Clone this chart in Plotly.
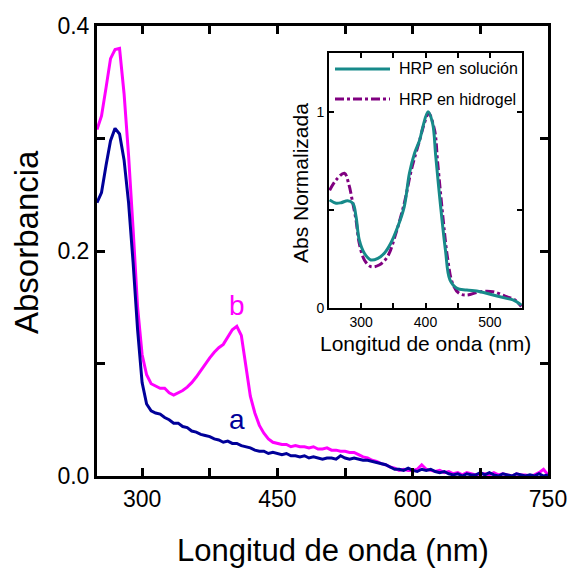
import plotly.graph_objects as go

# ---------------- data ----------------
wl = list(range(250, 751, 5))

abs_a = [0.243, 0.252, 0.276, 0.298, 0.309, 0.304, 0.281, 0.243, 0.190, 0.130,
         0.083, 0.064, 0.058, 0.056, 0.055, 0.052, 0.050, 0.047, 0.047, 0.044,
         0.043, 0.040, 0.039, 0.037, 0.036, 0.035, 0.033, 0.032, 0.030, 0.031,
         0.029, 0.029, 0.027, 0.026, 0.025, 0.023, 0.022, 0.022, 0.020, 0.021,
         0.020, 0.019, 0.020, 0.018, 0.018, 0.017, 0.018, 0.016, 0.017, 0.016,
         0.015, 0.016, 0.016, 0.015, 0.018, 0.016, 0.015, 0.016, 0.015, 0.014,
         0.014, 0.013, 0.012, 0.011, 0.010, 0.008, 0.006, 0.006, 0.005, 0.007,
         0.005, 0.004, 0.006, 0.005, 0.006, 0.004, 0.003, 0.004, 0.002, 0.001,
         0.002, 0.000, 0.002, 0.001, 0.001, 0.003, 0.001, 0.003, 0.001, 0.000,
         0.002, 0.001, 0.000, 0.002, 0.001, 0.000, 0.001, 0.000, 0.002, 0.000,
         0.001]

abs_b = [0.308, 0.320, 0.345, 0.371, 0.379, 0.380, 0.340, 0.285, 0.220, 0.150,
         0.108, 0.090, 0.082, 0.080, 0.078, 0.078, 0.074, 0.072, 0.074, 0.076,
         0.079, 0.083, 0.088, 0.094, 0.100, 0.105, 0.110, 0.114, 0.117, 0.123,
         0.130, 0.133, 0.125, 0.098, 0.071, 0.056, 0.045, 0.038, 0.033, 0.030,
         0.029, 0.028, 0.028, 0.026, 0.027, 0.026, 0.026, 0.025, 0.026, 0.024,
         0.024, 0.025, 0.023, 0.023, 0.022, 0.022, 0.021, 0.021, 0.019, 0.017,
         0.016, 0.014, 0.013, 0.011, 0.010, 0.008, 0.007, 0.005, 0.006, 0.005,
         0.005, 0.006, 0.010, 0.006, 0.005, 0.004, 0.005, 0.003, 0.004, 0.002,
         0.003, 0.001, 0.003, 0.002, 0.001, 0.002, 0.002, 0.001, 0.003, 0.001,
         0.002, 0.001, 0.000, 0.002, 0.001, 0.001, 0.000, 0.001, 0.003, 0.006,
         0.001]

sol_wl = [251, 261, 269, 279, 287, 292, 297, 305, 315, 326, 336, 346, 357, 367, 375,
          383, 391, 396, 404, 411, 416, 423, 431, 438, 449, 464, 485, 505, 526, 536, 549]
sol_abs = [0.551, 0.534, 0.537, 0.547, 0.534, 0.466, 0.347, 0.279, 0.245, 0.253, 0.279,
           0.330, 0.415, 0.517, 0.687, 0.789, 0.857, 0.925, 1.0, 0.942, 0.772, 0.534,
           0.296, 0.143, 0.100, 0.092, 0.083, 0.066, 0.049, 0.041, 0.015]

gel_wl = [251, 261, 274, 281, 287, 292, 297, 305, 315, 328, 341, 354, 367, 378, 391,
          399, 405, 414, 419, 427, 434, 442, 452, 464, 485, 505, 526, 539, 549]
gel_abs = [0.600, 0.653, 0.687, 0.628, 0.534, 0.449, 0.330, 0.245, 0.211, 0.219, 0.262,
           0.381, 0.534, 0.704, 0.857, 0.950, 0.993, 0.908, 0.738, 0.466, 0.262, 0.126,
           0.075, 0.066, 0.083, 0.083, 0.058, 0.041, 0.007]

main_xticks = [300, 375, 450, 525, 600, 675, 750]
main_xtext = ["300", "", "450", "", "600", "", "750"]
main_yticks = [0.0, 0.1, 0.2, 0.3, 0.4]
main_ytext = ["0.0", "", "0.2", "", "0.4"]
inset_xticks = [300, 350, 400, 450, 500]
inset_xtext = ["300", "", "400", "", "500"]
inset_yticks = [0, 0.5, 1]
inset_ytext = ["0", "", "1"]

FONT = "Liberation Sans, Arial, sans-serif"
NAVY = "#000099"
MAGENTA = "#ff00ff"
TEAL = "#178a8a"
PURPLE = "#800080"

fig = go.Figure()
fig.add_trace(go.Scatter(x=wl, y=abs_b, mode="lines", line=dict(color=MAGENTA, width=3),
                         name="b", xaxis="x", yaxis="y"))
fig.add_trace(go.Scatter(x=wl, y=abs_a, mode="lines", line=dict(color=NAVY, width=3),
                         name="a", xaxis="x", yaxis="y"))
fig.add_trace(go.Scatter(x=gel_wl, y=gel_abs, mode="lines",
                         line=dict(color=PURPLE, width=3, dash="dashdot", shape="spline"),
                         name="HRP en hidrogel", xaxis="x2", yaxis="y2"))
fig.add_trace(go.Scatter(x=sol_wl, y=sol_abs, mode="lines",
                         line=dict(color=TEAL, width=3, shape="spline"),
                         name="HRP en solución", xaxis="x2", yaxis="y2"))

L, R, T, B = 97, 20, 26, 92
W = 568 - L - R
H = 568 - T - B

def px(x):
    return (x - L) / W

def py(y):
    return (568 - B - y) / H

axis_common = dict(showline=True, linecolor="black", mirror="ticks", ticks="inside",
                   tickcolor="black", showgrid=False, zeroline=False, automargin=False)

fig.update_layout(
    width=568, height=568,
    margin=dict(l=L, r=R, t=T, b=B, autoexpand=False),
    plot_bgcolor="white", paper_bgcolor="white",
    showlegend=False,
    font=dict(family=FONT, color="black"),
    xaxis=dict(range=[250, 750], tickvals=main_xticks, ticktext=main_xtext,
               linewidth=3, tickwidth=2.5, ticklen=8, tickfont=dict(size=23),
               domain=[0, 1], **axis_common),
    yaxis=dict(range=[0, 0.4], tickvals=main_yticks, ticktext=main_ytext,
               linewidth=3, tickwidth=2.5, ticklen=8, tickfont=dict(size=23),
               domain=[0, 1], **axis_common),
    xaxis2=dict(range=[250, 550], tickvals=inset_xticks, ticktext=inset_xtext,
                linewidth=2, tickwidth=1.5, ticklen=5, tickfont=dict(size=14),
                domain=[px(329), px(522)], anchor="y2", **axis_common),
    yaxis2=dict(range=[0, 1.3], tickvals=inset_yticks, ticktext=inset_ytext,
                linewidth=2, tickwidth=1.5, ticklen=5, tickfont=dict(size=14),
                domain=[py(308), py(53)], anchor="x2", **axis_common),
)

ann = [
    dict(text="Longitud de onda (nm)", x=px(333), y=py(550), xref="paper", yref="paper",
         showarrow=False, font=dict(size=31), xanchor="center", yanchor="middle"),
    dict(text="Absorbancia", x=px(26), y=py(242), xref="paper", yref="paper",
         showarrow=False, font=dict(size=33), textangle=-90, xanchor="center", yanchor="middle"),
    dict(text="a", x=405, y=0.050, xref="x", yref="y", showarrow=False,
         font=dict(size=28, color=NAVY), xanchor="center", yanchor="middle"),
    dict(text="b", x=405, y=0.152, xref="x", yref="y", showarrow=False,
         font=dict(size=28, color=MAGENTA), xanchor="center", yanchor="middle"),
    dict(text="Longitud de onda (nm)", x=px(425), y=py(343), xref="paper", yref="paper",
         showarrow=False, font=dict(size=21), xanchor="center", yanchor="middle"),
    dict(text="Abs Normalizada", x=px(300), y=py(183), xref="paper", yref="paper",
         showarrow=False, font=dict(size=21), textangle=-90, xanchor="center", yanchor="middle"),
    dict(text="HRP en solución", x=px(397), y=py(69), xref="paper", yref="paper",
         showarrow=False, font=dict(size=16), xanchor="left", yanchor="middle"),
    dict(text="HRP en hidrogel", x=px(397), y=py(99), xref="paper", yref="paper",
         showarrow=False, font=dict(size=16), xanchor="left", yanchor="middle"),
]
fig.update_layout(annotations=ann)

fig.add_shape(type="line", xref="paper", yref="paper", x0=px(335), x1=px(390),
              y0=py(69), y1=py(69), line=dict(color=TEAL, width=3))
fig.add_shape(type="line", xref="paper", yref="paper", x0=px(335), x1=px(390),
              y0=py(99), y1=py(99), line=dict(color=PURPLE, width=3, dash="dashdot"))

fig.write_html("out.html")
